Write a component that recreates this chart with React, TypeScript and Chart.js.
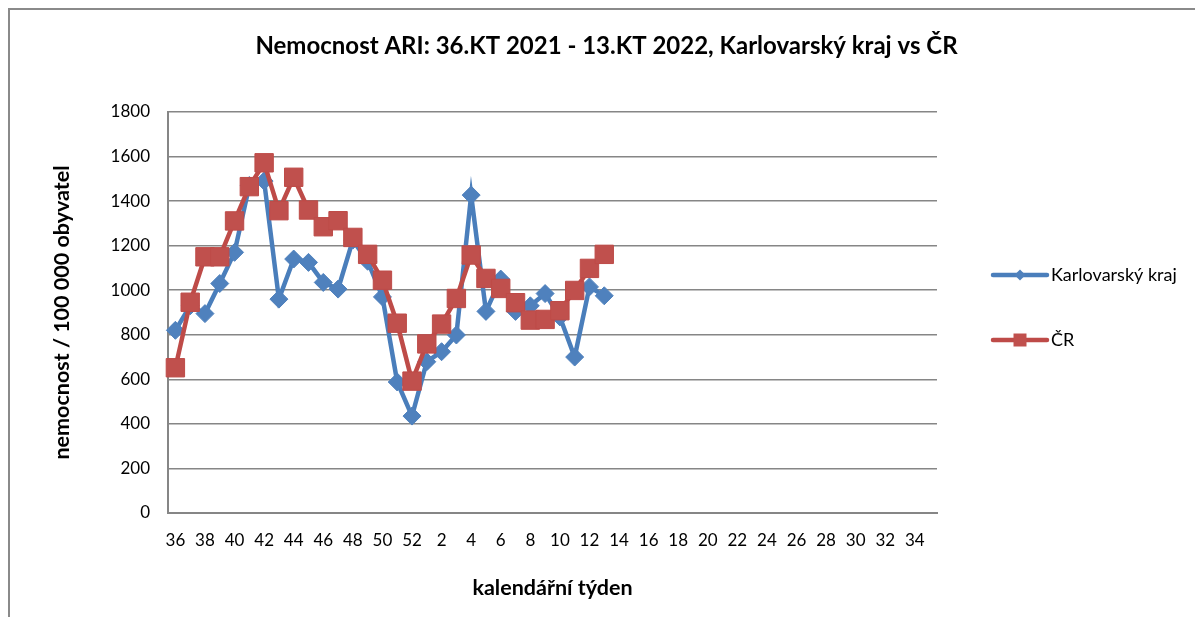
import React, { useEffect, useRef } from 'react';
import { Chart, registerables } from 'chart.js';

Chart.register(...registerables);

const chartTitle = 'Nemocnost ARI: 36.KT 2021 - 13.KT 2022, Karlovarský kraj vs ČR';
const yTitle = 'nemocnost / 100 000 obyvatel';
const xTitle = 'kalendářní týden';

const weeks = [
  '36', '37', '38', '39', '40', '41', '42', '43', '44', '45', '46', '47', '48', '49', '50', '51', '52',
  '1', '2', '3', '4', '5', '6', '7', '8', '9', '10', '11', '12', '13', '14', '15', '16', '17', '18',
  '19', '20', '21', '22', '23', '24', '25', '26', '27', '28', '29', '30', '31', '32', '33', '34', '35',
];

const karlovarskyLabel = 'Karlovarský kraj';
const karlovarsky = [
  820, 930, 895, 1030, 1170, 1470, 1490, 960, 1140, 1125, 1035, 1005, 1225, 1130, 970, 588, 435,
  679, 724, 799, 1427, 905, 1050, 905, 930, 985, 880, 700, 1015, 975,
];

const crLabel = 'ČR';
const cr = [
  652, 946, 1150, 1150, 1311, 1465, 1572, 1357, 1507, 1360, 1285, 1312, 1237, 1161, 1045, 852, 592,
  759, 848, 963, 1158, 1053, 1008, 944, 866, 869, 908, 999, 1098, 1161,
];

const yMin = 0;
const yMax = 1800;
const yStep = 200;

const BLUE = '#4a7ebb';
const BLUE_FILL = '#4f81bd';
const RED = '#be4b48';
const RED_FILL = '#c0504d';
const GRID = '#868686';
const FONT = 'Lato, "Liberation Sans", sans-serif';

const sideLegend = {
  id: 'sideLegend',
  afterDraw(chart: any) {
    const { ctx, chartArea } = chart;
    const mid = (chartArea.top + chartArea.bottom) / 2;
    const offsets = [-37.5, 27.5];
    const markers = ['diamond', 'square'];
    ctx.save();
    chart.data.datasets.forEach((ds: any, i: number) => {
      const y = mid + offsets[i];
      const x1 = chartArea.right + 56;
      const x2 = chartArea.right + 110;
      ctx.strokeStyle = ds.borderColor;
      ctx.lineWidth = 4.5;
      ctx.lineCap = 'round';
      ctx.beginPath();
      ctx.moveTo(x1, y);
      ctx.lineTo(x2, y);
      ctx.stroke();
      const cx = (x1 + x2) / 2;
      ctx.fillStyle = ds.pointBackgroundColor;
      ctx.beginPath();
      if (markers[i] === 'diamond') {
        const r = 5.5;
        ctx.moveTo(cx - r, y);
        ctx.lineTo(cx, y - r);
        ctx.lineTo(cx + r, y);
        ctx.lineTo(cx, y + r);
        ctx.closePath();
      } else {
        const s = 6.5;
        ctx.rect(cx - s, y - s, 2 * s, 2 * s);
      }
      ctx.fill();
      ctx.fillStyle = '#000';
      ctx.font = '18px ' + FONT;
      ctx.textAlign = 'left';
      ctx.textBaseline = 'middle';
      ctx.fillText(ds.label, chartArea.right + 114, y);
    });
    ctx.restore();
  },
};

export default function App() {
  const canvasRef = useRef<HTMLCanvasElement | null>(null);

  useEffect(() => {
    if (!canvasRef.current) return;
    const chart = new Chart(canvasRef.current, {
      type: 'line',
      data: {
        labels: weeks,
        datasets: [
          {
            label: karlovarskyLabel,
            data: karlovarsky,
            borderColor: BLUE,
            backgroundColor: BLUE_FILL,
            pointBackgroundColor: BLUE_FILL,
            pointBorderColor: BLUE_FILL,
            pointStyle: 'rectRot',
            pointRadius: 9,
            pointBorderWidth: 1,
            borderWidth: 4.5,
            tension: 0,
            order: 1,
          },
          {
            label: crLabel,
            data: cr,
            borderColor: RED,
            backgroundColor: RED_FILL,
            pointBackgroundColor: RED_FILL,
            pointBorderColor: RED,
            pointStyle: 'rect',
            pointRadius: 13,
            pointBorderWidth: 1,
            borderWidth: 4.5,
            tension: 0,
            order: 0,
          },
        ],
      },
      options: {
        animation: false,
        responsive: false,
        events: [],
        layout: { padding: { left: 8, top: 0, right: 0, bottom: 0 } },
        plugins: {
          legend: { display: false },
          tooltip: { enabled: false },
          title: {
            display: true,
            text: chartTitle,
            color: '#000',
            font: { family: FONT, size: 24, weight: 'bold', lineHeight: 1.2 },
            padding: { top: 21.6, bottom: 51.6 },
          },
        },
        scales: {
          x: {
            offset: true,
            grid: { display: false, drawTicks: false },
            border: { display: true, color: GRID, width: 2 },
            ticks: {
              autoSkip: false,
              maxRotation: 0,
              minRotation: 0,
              padding: 17,
              color: '#000',
              font: { family: FONT, size: 17 },
              callback: (_v: any, i: number) => (i % 2 === 0 ? weeks[i] : ''),
            },
            title: {
              display: true,
              text: xTitle,
              color: '#000',
              font: { family: FONT, size: 21.5, weight: 'bold', lineHeight: 1.2 },
              padding: { top: 0, bottom: 16 },
            },
            afterFit: (scale: any) => {
              scale.height = 104;
            },
          },
          y: {
            min: yMin,
            max: yMax,
            grid: { color: GRID, lineWidth: 1.5, drawTicks: false },
            border: { display: true, color: GRID, width: 2 },
            ticks: {
              stepSize: yStep,
              padding: 18,
              color: '#000',
              font: { family: FONT, size: 17 },
              callback: (v: any) => String(v),
            },
            title: {
              display: true,
              text: yTitle,
              color: '#000',
              font: { family: FONT, size: 21.5, weight: 'bold', lineHeight: 1.2 },
              padding: { top: 31, bottom: 0 },
            },
            afterFit: (scale: any) => {
              scale.width = 150;
            },
          },
          legendSpace: {
            type: 'linear',
            position: 'right',
            display: true,
            grid: { display: false, drawOnChartArea: false, drawTicks: false },
            border: { display: false },
            ticks: { display: false },
            afterFit: (scale: any) => {
              scale.width = 258;
            },
          },
        },
      },
      plugins: [sideLegend],
    } as any);
    return () => chart.destroy();
  }, []);

  return (
    <div
      style={{
        position: 'fixed',
        left: 8,
        top: 8,
        width: 1187,
        height: 609,
        boxSizing: 'border-box',
        borderLeft: '2px solid #8a8a8a',
        borderTop: '2px solid #8a8a8a',
        background: '#fff',
      }}
    >
      <canvas ref={canvasRef} width={1185} height={607} style={{ display: 'block' }} />
    </div>
  );
}
